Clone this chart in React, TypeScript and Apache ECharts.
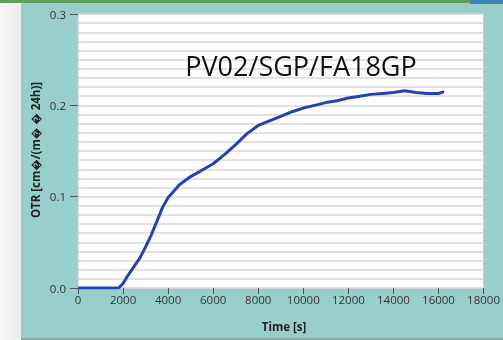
import React, { useEffect, useRef } from "react";
import * as echarts from "echarts";

const timeS = [0, 1800, 2000, 2250, 2500, 2750, 3000, 3250, 3500, 3750, 4000, 4250, 4500, 5000, 5500, 6000, 6500, 7000, 7500, 8000, 8500, 9000, 9500, 10000, 10500, 11000, 11500, 12000, 12500, 13000, 13500, 14000, 14500, 15000, 15500, 16000, 16250];
const otr = [0, 0, 0.005, 0.015, 0.024, 0.033, 0.045, 0.058, 0.073, 0.088, 0.099, 0.106, 0.113, 0.122, 0.129, 0.136, 0.146, 0.157, 0.169, 0.178, 0.183, 0.188, 0.193, 0.197, 0.2, 0.203, 0.205, 0.208, 0.21, 0.212, 0.213, 0.214, 0.216, 0.214, 0.213, 0.213, 0.215];
const xTicks = [0, 2000, 4000, 6000, 8000, 10000, 12000, 14000, 16000, 18000];
const yTicks = [0, 0.1, 0.2, 0.3];
const titleText = "PV02/SGP/FA18GP";
const yName = "OTR [cm\uFFFD/(m\uFFFD \uFFFD 24h)]";
const xName = "Time [s]";

export default function App() {
  const ref = useRef<HTMLDivElement>(null);
  useEffect(() => {
    if (!ref.current) return;
    const chart = echarts.init(ref.current, null, { renderer: "svg" });
    const font = "'Open Sans', 'Noto Sans', sans-serif";
    chart.setOption({
      animation: false,
      textStyle: { fontFamily: font },
      graphic: [
        { type: "rect", z: -10, shape: { x: 0, y: 0, width: 21, height: 340 }, style: { fill: new echarts.graphic.LinearGradient(0, 0, 1, 0, [{ offset: 0, color: "#f7f7f7" }, { offset: 1, color: "#ececec" }]) } },
        { type: "rect", z: -10, shape: { x: 21, y: 0, width: 482, height: 340 }, style: { fill: "#98cfcb" } },
        { type: "rect", z: -9, shape: { x: 0, y: 0, width: 503, height: 3 }, style: { fill: "#5f9e5c" } },
        { type: "rect", z: -9, shape: { x: 470, y: 0, width: 33, height: 4 }, style: { fill: "#3f86b8" } },
        { type: "rect", z: -9, shape: { x: 21, y: 338, width: 482, height: 2 }, style: { fill: "#8aa9a6" } },
        { type: "text", z: 10, x: 301, y: 65, style: { text: titleText, fontSize: 27, fontFamily: font, fill: "#111", textAlign: "center", textVerticalAlign: "middle" } },
        { type: "text", z: 10, x: 35, y: 150, rotation: Math.PI / 2, style: { text: yName, fontSize: 11.5, fontWeight: "bold", fontFamily: font, fill: "#222", textAlign: "center", textVerticalAlign: "middle" } },
        { type: "text", z: 10, x: 284, y: 326, style: { text: xName, fontSize: 11.5, fontWeight: "bold", fontFamily: font, fill: "#222", textAlign: "center", textVerticalAlign: "middle" } },
      ],
      grid: { left: 78, right: 10, top: 14, bottom: 52, show: true, backgroundColor: "#ffffff", borderColor: "#c8c8c8", borderWidth: 1 },
      xAxis: {
        type: "value", min: xTicks[0], max: xTicks[xTicks.length - 1], interval: 2000,
        axisLine: { show: false },
        axisTick: { show: true, inside: false, length: 6, lineStyle: { color: "#555" } },
        axisLabel: { fontSize: 11.5, color: "#333", margin: 5, fontFamily: font, formatter: (v: number) => String(v) },
        splitLine: { show: false },
      },
      yAxis: {
        type: "value", min: yTicks[0], max: yTicks[yTicks.length - 1], interval: 0.1,
        axisLine: { show: false },
        axisTick: { show: true, inside: false, length: 8, lineStyle: { color: "#555" } },
        axisLabel: { fontSize: 11.5, color: "#333", margin: 12, fontFamily: font, formatter: (v: number) => v.toFixed(1) },
        splitLine: { show: true, lineStyle: { color: "#d8d8d8", width: 1.5 } },
        minorTick: { show: false, splitNumber: 10 },
        minorSplitLine: { show: true, lineStyle: { color: "#d8d8d8", width: 1.5 } },
      },
      series: [
        {
          type: "line",
          data: timeS.map((t, i) => [t, otr[i]]),
          showSymbol: false,
          lineStyle: { color: "#2442b0", width: 3 },
          itemStyle: { color: "#2442b0" },
        },
      ],
    });
    return () => chart.dispose();
  }, []);
  return <div ref={ref} style={{ position: "fixed", left: 0, top: 0, width: 503, height: 340 }} />;
}
